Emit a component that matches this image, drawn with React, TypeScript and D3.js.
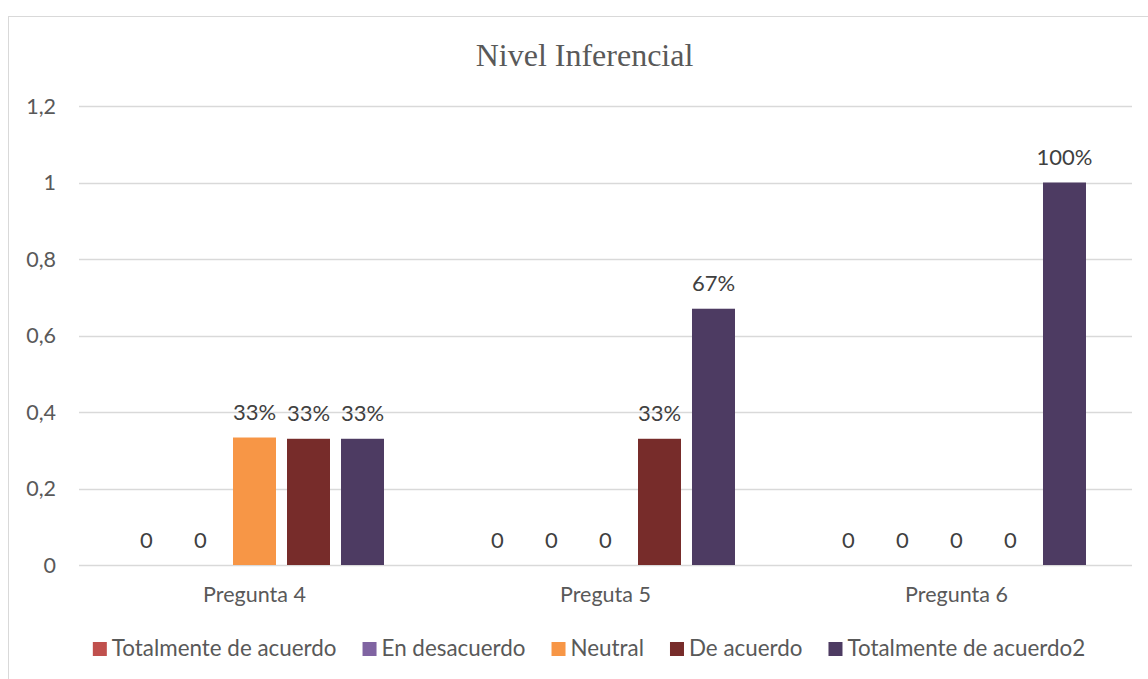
import React, { useEffect, useRef } from "react";
import * as d3 from "d3";

const categories = ["Pregunta 4", "Preguta 5", "Pregunta 6"];
const seriesNames = ["Totalmente de acuerdo", "En desacuerdo", "Neutral", "De acuerdo", "Totalmente de acuerdo2"];
const seriesColors = ["#C0504D", "#8064A2", "#F79646", "#772C2A", "#4D3B62"];
const totalmenteDeAcuerdo = [0, 0, 0];
const enDesacuerdo = [0, 0, 0];
const neutral = [0.3333, 0, 0];
const deAcuerdo = [0.33, 0.33, 0];
const totalmenteDeAcuerdo2 = [0.33, 0.67, 1];
const yTicks = [0, 0.2, 0.4, 0.6, 0.8, 1, 1.2];
const title = "Nivel Inferencial";

const W = 1148;
const H = 679;
const FONT = "Lato, 'Open Sans', sans-serif";
const FS = 21.5;

export default function App() {
  const ref = useRef<SVGSVGElement>(null);

  useEffect(() => {
    const svg = d3.select(ref.current);
    svg.selectAll("*").remove();

    const seriesValues = [totalmenteDeAcuerdo, enDesacuerdo, neutral, deAcuerdo, totalmenteDeAcuerdo2];
    const plotL = 79, plotR = 1132, plotT = 106, plotB = 565;

    svg.append("rect")
      .attr("x", 8.5).attr("y", 16.5)
      .attr("width", W + 20).attr("height", H + 20)
      .attr("fill", "#fff").attr("stroke", "#D9D9D9").attr("stroke-width", 1);

    svg.append("text")
      .attr("x", 584.5).attr("y", 66)
      .attr("text-anchor", "middle")
      .attr("font-family", "'Liberation Serif', 'Times New Roman', serif")
      .attr("font-size", 32)
      .attr("fill", "#595959")
      .text(title);

    const y = d3.scaleLinear().domain([0, 1.2]).range([plotB, plotT]);
    const x0 = d3.scaleBand<string>().domain(categories).range([plotL, plotR]).paddingInner(0).paddingOuter(0);
    const x1 = d3.scaleBand<string>().domain(seriesNames).range([0, x0.bandwidth()])
      .paddingInner(11 / 54).paddingOuter(0.852);

    const fmtTick = (v: number) => d3.format(".1~f")(v).replace(".", ",");

    svg.append("g").selectAll("line").data(yTicks).join("line")
      .attr("x1", plotL).attr("x2", plotR)
      .attr("y1", (d) => Math.round(y(d)) + 0.5).attr("y2", (d) => Math.round(y(d)) + 0.5)
      .attr("stroke", "#D9D9D9").attr("stroke-width", 1.5);

    svg.append("g").selectAll("text").data(yTicks).join("text")
      .attr("x", 56).attr("y", (d) => y(d) + 7.5)
      .attr("text-anchor", "end")
      .attr("font-family", FONT).attr("font-size", FS).attr("fill", "#595959")
      .text((d) => fmtTick(d));

    const groups = svg.append("g").selectAll("g").data(categories).join("g")
      .attr("transform", (c) => `translate(${x0(c)},0)`);

    groups.each(function (c, ci) {
      const g = d3.select(this);
      seriesNames.forEach((s, si) => {
        const v = seriesValues[si][ci];
        const bx = x1(s)!;
        if (v > 0) {
          g.append("rect")
            .attr("x", bx).attr("y", y(v))
            .attr("width", x1.bandwidth()).attr("height", y(0) - y(v))
            .attr("fill", seriesColors[si]);
        }
        g.append("text")
          .attr("x", bx + x1.bandwidth() / 2).attr("y", y(v) - 17.5)
          .attr("text-anchor", "middle")
          .attr("font-family", FONT).attr("font-size", 22).attr("fill", "#404040")
          .text(v === 0 ? "0" : d3.format(".0%")(v));
      });
    });

    svg.append("g").selectAll("text").data(categories).join("text")
      .attr("x", (c) => x0(c)! + x0.bandwidth() / 2).attr("y", 602)
      .attr("text-anchor", "middle")
      .attr("font-family", FONT).attr("font-size", FS).attr("fill", "#595959")
      .text((c) => c);

    const legend = svg.append("g");
    let cx = 0;
    seriesNames.forEach((s, i) => {
      const item = legend.append("g").attr("transform", `translate(${cx},0)`);
      item.append("rect").attr("x", 0).attr("y", 642).attr("width", 14).attr("height", 14).attr("fill", seriesColors[i]);
      const t = item.append("text").attr("x", 19).attr("y", 655.5)
        .attr("font-family", FONT).attr("font-size", 22.4).attr("fill", "#595959").text(s);
      const w = (t.node() as SVGTextElement).getComputedTextLength();
      cx += 19 + w + 26;
    });
    const total = cx - 26;
    legend.attr("transform", `translate(${589 - total / 2},0)`);
  }, []);

  return (
    <div style={{ position: "absolute", left: 0, top: 0, width: W, height: H, overflow: "hidden", background: "#fff" }}>
      <svg ref={ref} width={W} height={H} />
    </div>
  );
}
